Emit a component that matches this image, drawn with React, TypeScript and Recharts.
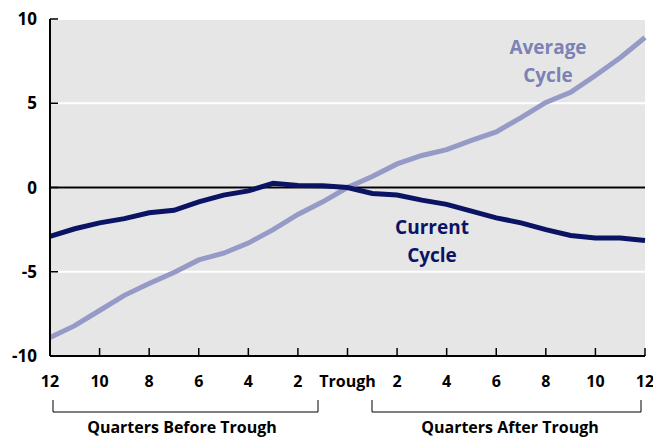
import { LineChart, Line, XAxis, YAxis, CartesianGrid, ReferenceLine, Customized } from 'recharts';

// quarters relative to the trough (-12 .. 12)
const quarters = [-12, -11, -10, -9, -8, -7, -6, -5, -4, -3, -2, -1, 0, 1, 2, 3, 4, 5, 6, 7, 8, 9, 10, 11, 12];

const averageCycle = [
  -8.9, -8.2, -7.3, -6.4, -5.7, -5.05, -4.3, -3.9, -3.3, -2.5, -1.6, -0.85, 0,
  0.65, 1.4, 1.9, 2.25, 2.8, 3.3, 4.15, 5.05, 5.65, 6.65, 7.7, 8.9,
];

const currentCycle = [
  -2.9, -2.45, -2.1, -1.85, -1.5, -1.35, -0.85, -0.45, -0.2, 0.25, 0.12, 0.1, 0,
  -0.35, -0.45, -0.75, -1.0, -1.4, -1.8, -2.1, -2.5, -2.85, -3.0, -3.0, -3.15,
];

const xTicks = [-12, -10, -8, -6, -4, -2, 0, 2, 4, 6, 8, 10, 12];
const yTicks = [-10, -5, 0, 5, 10];

const data = quarters.map((q, i) => ({
  q,
  average: averageCycle[i],
  current: currentCycle[i],
}));

const FONT = "'Open Sans', 'DejaVu Sans', sans-serif";
const AVG_COLOR = '#959ac6';
const CUR_COLOR = '#0b1464';

const Notes = () => (
  <g fontFamily={FONT} fontWeight={700}>
    <text x={548} y={54} textAnchor='middle' fontSize={19} fill='#7c81b6'>Average</text>
    <text x={548} y={82} textAnchor='middle' fontSize={19} fill='#7c81b6'>Cycle</text>
    <text x={432} y={234} textAnchor='middle' fontSize={19} fill={CUR_COLOR}>Current</text>
    <text x={432} y={262} textAnchor='middle' fontSize={19} fill={CUR_COLOR}>Cycle</text>
    {/* brackets */}
    <path d='M53,400 V412 H318 V400' fill='none' stroke='#000' strokeWidth={1} />
    <path d='M372,400 V412 H641 V400' fill='none' stroke='#000' strokeWidth={1} />
    <text x={182} y={433} textAnchor='middle' fontSize={16} fill='#000'>Quarters Before Trough</text>
    <text x={510} y={433} textAnchor='middle' fontSize={16} fill='#000'>Quarters After Trough</text>
  </g>
);

const App = () => {
  return (
    <div style={{ position: 'absolute', left: 0, top: 0, background: '#fff' }}>
      <LineChart
        width={653}
        height={439}
        data={data}
        margin={{ top: 19, right: 8, left: 0, bottom: 53 }}
      >
        <CartesianGrid fill='#e6e6e6' stroke='#ffffff' strokeWidth={2} vertical={false} />
        <XAxis
          dataKey='q'
          type='number'
          domain={[-12, 12]}
          ticks={xTicks}
          height={30}
          tickFormatter={(v: number) => (v === 0 ? 'Trough' : String(Math.abs(v)))}
          axisLine={{ stroke: '#000', strokeWidth: 2 }}
          tickLine={{ stroke: '#000', strokeWidth: 1.5 }}
          tickSize={-8}
          tickMargin={28}
          tick={{ fill: '#000', fontSize: 16, fontWeight: 700, fontFamily: FONT }}
          interval={0}
        />
        <YAxis
          width={50}
          domain={[-10, 10]}
          ticks={yTicks}
          axisLine={{ stroke: '#000', strokeWidth: 2 }}
          tickLine={{ stroke: '#000', strokeWidth: 1.5 }}
          tickSize={-8}
          tickMargin={21}
          tick={{ fill: '#000', fontSize: 17, fontWeight: 700, fontFamily: FONT }}
          interval={0}
        />
        <ReferenceLine y={0} stroke='#000' strokeWidth={2} />
        <Line
          dataKey='average'
          stroke={AVG_COLOR}
          strokeWidth={5}
          dot={false}
          type='linear'
          isAnimationActive={false}
        />
        <Line
          dataKey='current'
          stroke={CUR_COLOR}
          strokeWidth={5}
          dot={false}
          type='linear'
          isAnimationActive={false}
        />
        <Customized component={Notes} />
      </LineChart>
    </div>
  );
};

export default App;
